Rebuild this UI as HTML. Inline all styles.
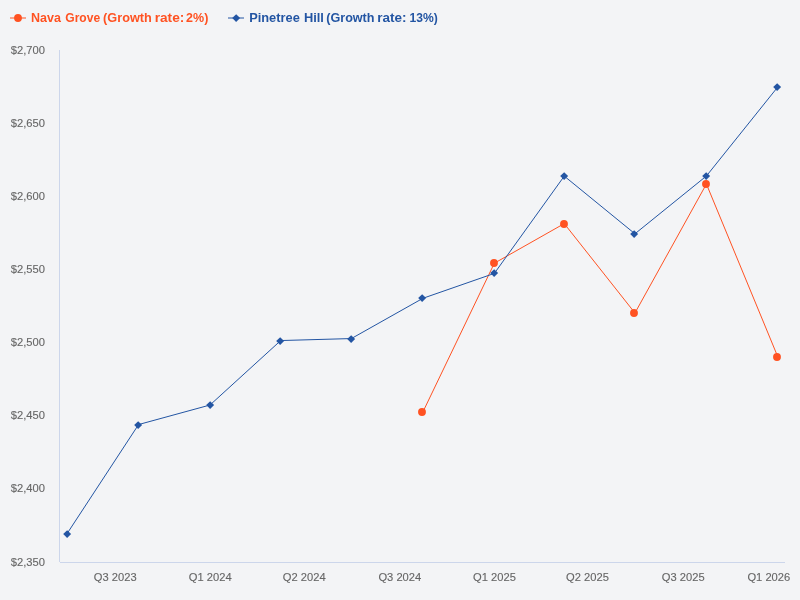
<!DOCTYPE html>
<html><head><meta charset="utf-8"><title>Rent growth chart</title>
<style>
html,body{margin:0;padding:0;background:#f3f4f6;}
body{width:800px;height:600px;overflow:hidden;}
svg{display:block;font-family:"Liberation Sans",sans-serif;}
.ax{font-size:11px;fill:#666666;stroke:#666666;stroke-width:0.12px;}
.lg{font-size:12px;font-weight:bold;}
</style></head><body>
<svg width="800" height="600" viewBox="0 0 800 600">
<rect width="800" height="600" fill="#f3f4f6"/>
<path d="M59.5 50V562" stroke="#ccd6eb" stroke-width="1" fill="none"/>
<path d="M60 562.5H785" stroke="#ccd6eb" stroke-width="1" fill="none"/>

<text class="ax" x="45" y="54.00" text-anchor="end" textLength="34.2" lengthAdjust="spacingAndGlyphs">$2,700</text>
<text class="ax" x="45" y="127.00" text-anchor="end" textLength="34.2" lengthAdjust="spacingAndGlyphs">$2,650</text>
<text class="ax" x="45" y="200.00" text-anchor="end" textLength="34.2" lengthAdjust="spacingAndGlyphs">$2,600</text>
<text class="ax" x="45" y="273.00" text-anchor="end" textLength="34.2" lengthAdjust="spacingAndGlyphs">$2,550</text>
<text class="ax" x="45" y="346.00" text-anchor="end" textLength="34.2" lengthAdjust="spacingAndGlyphs">$2,500</text>
<text class="ax" x="45" y="419.00" text-anchor="end" textLength="34.2" lengthAdjust="spacingAndGlyphs">$2,450</text>
<text class="ax" x="45" y="492.00" text-anchor="end" textLength="34.2" lengthAdjust="spacingAndGlyphs">$2,400</text>
<text class="ax" x="45" y="566.00" text-anchor="end" textLength="34.2" lengthAdjust="spacingAndGlyphs">$2,350</text>
<text class="ax" x="115.20" y="581" text-anchor="middle" textLength="42.8" lengthAdjust="spacingAndGlyphs">Q3 2023</text>
<text class="ax" x="210.20" y="581" text-anchor="middle" textLength="42.8" lengthAdjust="spacingAndGlyphs">Q1 2024</text>
<text class="ax" x="304.20" y="581" text-anchor="middle" textLength="42.8" lengthAdjust="spacingAndGlyphs">Q2 2024</text>
<text class="ax" x="399.85" y="581" text-anchor="middle" textLength="42.8" lengthAdjust="spacingAndGlyphs">Q3 2024</text>
<text class="ax" x="494.50" y="581" text-anchor="middle" textLength="42.8" lengthAdjust="spacingAndGlyphs">Q1 2025</text>
<text class="ax" x="587.50" y="581" text-anchor="middle" textLength="42.8" lengthAdjust="spacingAndGlyphs">Q2 2025</text>
<text class="ax" x="683.20" y="581" text-anchor="middle" textLength="42.8" lengthAdjust="spacingAndGlyphs">Q3 2025</text>
<text class="ax" x="768.85" y="581" text-anchor="middle" textLength="42.8" lengthAdjust="spacingAndGlyphs">Q1 2026</text>
<g fill="none" stroke-width="1" stroke-linejoin="round" stroke-linecap="round"><path d="M422.88 412.00 L494.35 263.20 L564.26 223.60 L634.95 313.00 L706.41 184.00 L777.88 357.00" stroke="#ff5222"/></g>
<g fill="#ff5222"><circle cx="422.0" cy="412.0" r="3.92"/><circle cx="494.0" cy="263.0" r="3.92"/><circle cx="564.0" cy="224.0" r="3.92"/><circle cx="634.0" cy="313.0" r="3.92"/><circle cx="706.0" cy="184.0" r="3.92"/><circle cx="777.0" cy="357.0" r="3.92"/></g>
<g fill="none" stroke-width="1" stroke-linejoin="round" stroke-linecap="round"><path d="M67.10 533.60 L138.57 424.55 L210.03 405.00 L280.72 340.55 L351.41 338.55 L422.88 298.30 L494.35 273.40 L564.26 176.10 L634.95 233.80 L706.41 176.00 L777.88 86.85" stroke="#2355a3"/></g>
<g fill="#2355a3"><path d="M67.15 530.15L71.10 534.10L67.15 538.05L63.20 534.10Z"/><path d="M138.15 421.15L142.10 425.10L138.15 429.05L134.20 425.10Z"/><path d="M210.15 401.15L214.10 405.10L210.15 409.05L206.20 405.10Z"/><path d="M280.15 337.15L284.10 341.10L280.15 345.05L276.20 341.10Z"/><path d="M351.15 335.15L355.10 339.10L351.15 343.05L347.20 339.10Z"/><path d="M422.15 294.15L426.10 298.10L422.15 302.05L418.20 298.10Z"/><path d="M494.15 269.15L498.10 273.10L494.15 277.05L490.20 273.10Z"/><path d="M564.15 172.15L568.10 176.10L564.15 180.05L560.20 176.10Z"/><path d="M634.15 230.15L638.10 234.10L634.15 238.05L630.20 234.10Z"/><path d="M706.15 172.15L710.10 176.10L706.15 180.05L702.20 176.10Z"/><path d="M777.15 83.15L781.10 87.10L777.15 91.05L773.20 87.10Z"/></g>
<path d="M10 18H26" stroke="#ff5222" stroke-width="1"/><circle cx="18" cy="18" r="3.92" fill="#ff5222"/>
<text class="lg" y="22" fill="#ff5222"><tspan x="31.02" textLength="29.92" lengthAdjust="spacingAndGlyphs">Nava</tspan> <tspan x="65.3" textLength="34.84" lengthAdjust="spacingAndGlyphs">Grove</tspan> <tspan x="103.09" textLength="48.71" lengthAdjust="spacingAndGlyphs">(Growth</tspan> <tspan x="154.65" textLength="29.66" lengthAdjust="spacingAndGlyphs">rate:</tspan> <tspan x="186.11" textLength="22.21" lengthAdjust="spacingAndGlyphs">2%)</tspan></text>
<path d="M228 18H244" stroke="#2355a3" stroke-width="1"/><g fill="#2355a3"><path d="M236.15 14.15L240.10 18.10L236.15 22.05L232.20 18.10Z"/></g>
<text class="lg" y="22" fill="#2355a3"><tspan x="249.2" textLength="50.58" lengthAdjust="spacingAndGlyphs">Pinetree</tspan> <tspan x="303.95" textLength="20.01" lengthAdjust="spacingAndGlyphs">Hill</tspan> <tspan x="326.24" textLength="48.29" lengthAdjust="spacingAndGlyphs">(Growth</tspan> <tspan x="377.26" textLength="29.28" lengthAdjust="spacingAndGlyphs">rate:</tspan> <tspan x="409.64" textLength="28.25" lengthAdjust="spacingAndGlyphs">13%)</tspan></text>
</svg></body></html>
